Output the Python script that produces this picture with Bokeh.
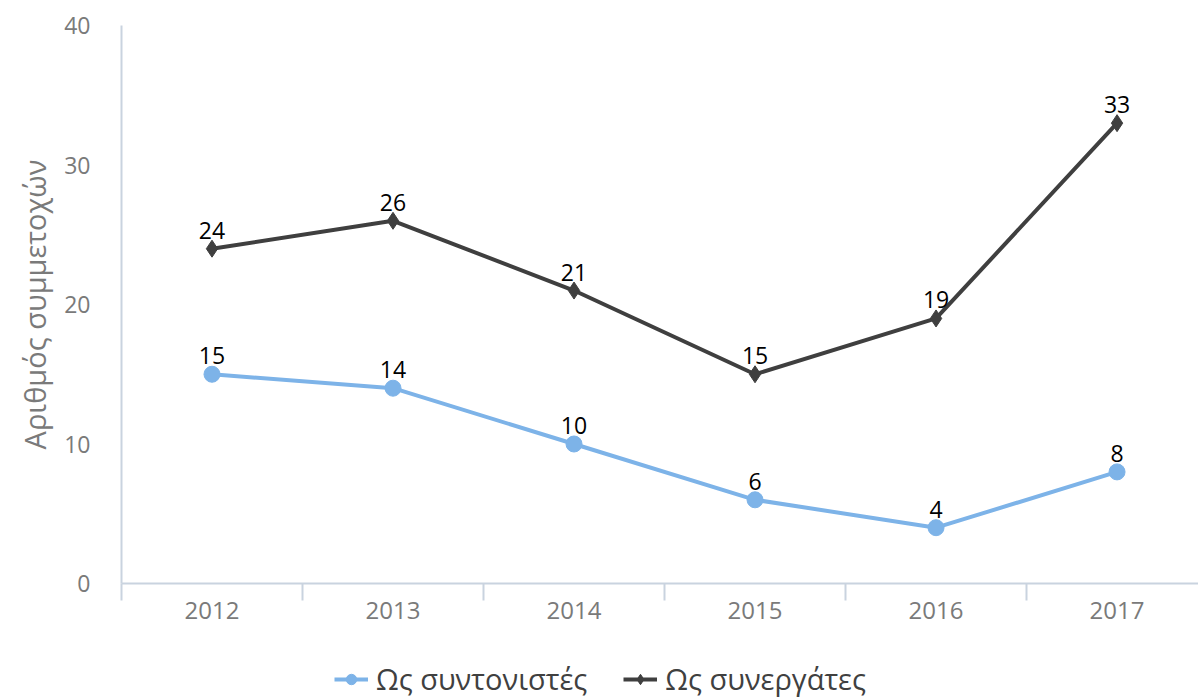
from bokeh.plotting import figure
from bokeh.layouts import column
from bokeh.models import Range1d, FixedTicker, Legend, LegendItem, ColumnDataSource
from bokeh.core.properties import value
from bokeh.embed import file_html
from bokeh.resources import INLINE

years = ["2012", "2013", "2014", "2015", "2016", "2017"]
coordinators = [15, 14, 10, 6, 4, 8]
partners = [24, 26, 21, 15, 19, 33]
series_names = ["Ως συντονιστές", "Ως συνεργάτες"]
y_label = "Αριθμός συμμετοχών"

BLUE = "#7db3e8"
DARK = "#3f3f3f"
AXIS = "#c9d3df"
GRAY = "#7a7a7a"
FONT = "Open Sans"

xs = [i + 0.5 for i in range(len(years))]
src = ColumnDataSource(dict(
    x=xs,
    c=coordinators,
    p=partners,
    cl=[str(v) for v in coordinators],
    pl=[str(v) for v in partners],
))

p = figure(frame_width=1077, frame_height=558, output_backend="svg", toolbar_location=None,
           x_range=Range1d(0, 5.95), y_range=Range1d(0, 40),
           min_border_left=121, min_border_right=0, min_border_top=25, min_border_bottom=75)
p.outline_line_color = None
p.grid.visible = False
p.background_fill_color = "white"
p.border_fill_color = "white"

# x axis: labels at category centres, tick marks at boundaries
p.xaxis.ticker = FixedTicker(ticks=xs, minor_ticks=list(range(len(years) + 1)))
p.xaxis.major_label_overrides = {x: y for x, y in zip(xs, years)}
p.xaxis.major_tick_out = 0
p.xaxis.major_tick_in = 0
p.xaxis.minor_tick_out = 17
p.xaxis.minor_tick_in = 0
p.xaxis.minor_tick_line_color = AXIS
p.xaxis.minor_tick_line_width = 2
p.xaxis.axis_line_color = AXIS
p.xaxis.axis_line_width = 2
p.xaxis.major_label_text_font = FONT
p.xaxis.major_label_text_font_size = "24px"
p.xaxis.major_label_text_color = GRAY
p.xaxis.major_label_standoff = 1

p.yaxis.ticker = FixedTicker(ticks=[0, 10, 20, 30, 40])
p.yaxis.major_tick_out = 0
p.yaxis.major_tick_in = 0
p.yaxis.minor_tick_out = 0
p.yaxis.minor_tick_in = 0
p.yaxis.axis_line_color = AXIS
p.yaxis.axis_line_width = 2
p.yaxis.major_label_text_font = FONT
p.yaxis.major_label_text_font_size = "23px"
p.yaxis.major_label_text_color = GRAY
p.yaxis.major_label_standoff = 31
p.yaxis.axis_label = y_label
p.yaxis.axis_label_text_font = FONT
p.yaxis.axis_label_text_font_size = "29px"
p.yaxis.axis_label_text_font_style = "normal"
p.yaxis.axis_label_text_color = GRAY
p.yaxis.axis_label_standoff = 7

p.line("x", "c", source=src, line_color=BLUE, line_width=4)
p.scatter("x", "c", source=src, marker="circle", size=16, fill_color=BLUE, line_color=BLUE)
p.line("x", "p", source=src, line_color=DARK, line_width=4)
p.scatter("x", "p", source=src, marker="diamond", size=17, fill_color=DARK, line_color=DARK)

for col, lab in (("c", "cl"), ("p", "pl")):
    p.text("x", col, text=lab, source=src, text_align="center", text_baseline="bottom",
           y_offset=-10, text_font=value(FONT), text_font_size="23px", text_color="black")

# legend strip below the chart
lg = figure(frame_width=1198, frame_height=40, output_backend="svg", toolbar_location=None,
            x_axis_type=None, y_axis_type=None,
            x_range=Range1d(0, 1), y_range=Range1d(0, 1),
            min_border=0, min_border_left=0, min_border_right=0, min_border_top=0, min_border_bottom=0)
lg.grid.visible = False
lg.outline_line_color = None
nan = float("nan")
dummy = ColumnDataSource(dict(x=[nan], y=[nan]))
r1 = lg.line("x", "y", source=dummy, line_color=BLUE, line_width=4)
s1 = lg.scatter("x", "y", source=dummy, marker="circle", size=16, fill_color=BLUE, line_color=BLUE)
r2 = lg.line("x", "y", source=dummy, line_color=DARK, line_width=4)
s2 = lg.scatter("x", "y", source=dummy, marker="diamond", size=17, fill_color=DARK, line_color=DARK)
legend = Legend(items=[LegendItem(label=series_names[0], renderers=[r1, s1]),
                       LegendItem(label=series_names[1], renderers=[r2, s2])],
                orientation="horizontal", location=(334, 0),
                label_text_font=FONT, label_text_font_size="29px", label_text_color="#404040",
                glyph_width=34, glyph_height=26, spacing=36, label_standoff=8,
                border_line_color=None, background_fill_alpha=0, margin=0, padding=2)
lg.add_layout(legend, "center")

layout = column(p, lg, spacing=0)
open("out.html", "w").write(file_html(layout, INLINE))
